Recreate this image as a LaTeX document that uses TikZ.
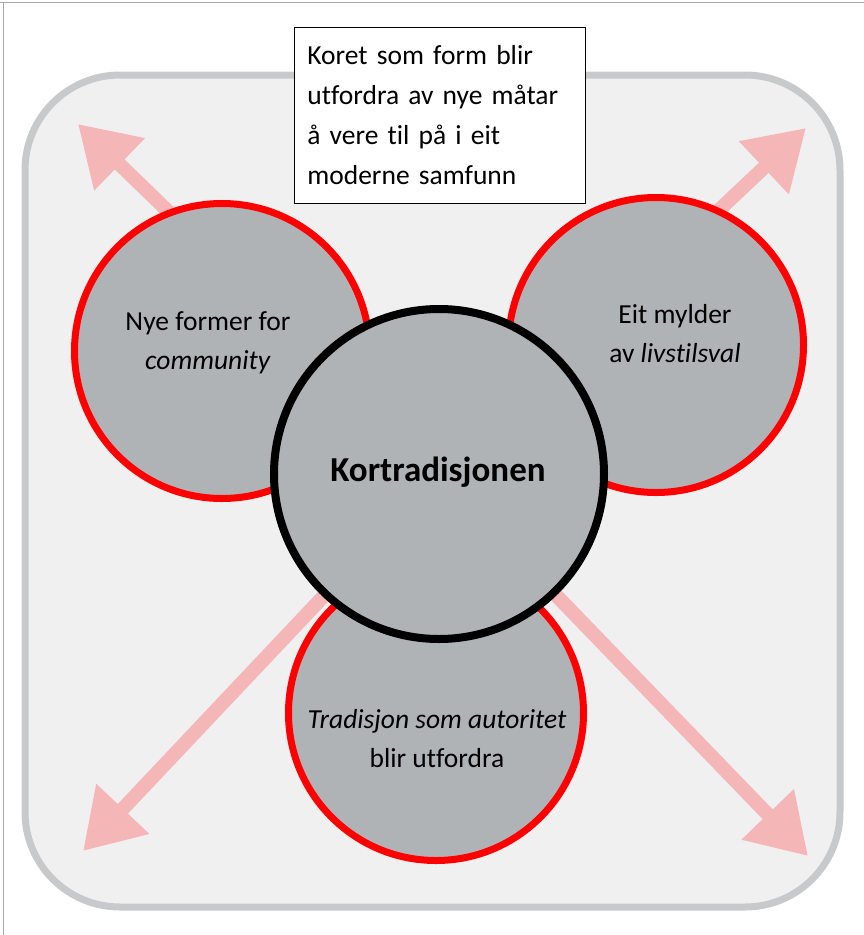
\documentclass[tikz,border=0pt]{standalone}
\usepackage{fontspec}
\setmainfont{Carlito}[Ligatures=NoCommon]
\usetikzlibrary{arrows.meta}
\definecolor{framegray}{HTML}{C8C9CA}
\definecolor{panelfill}{HTML}{F0F0F0}
\definecolor{circfill}{HTML}{B0B3B6}
\definecolor{arrowpink}{HTML}{F4B6B6}
\definecolor{edgegray}{HTML}{A8A8A8}
\tikzset{
  panel/.style={draw=framegray, line width=7pt, fill=panelfill, rounded corners=95pt},
  outarrow/.style={draw=arrowpink, line width=14pt, -{Triangle[length=58pt,width=69pt]}},
  redcirc/.style={circle, draw=red, line width=7pt, fill=circfill, minimum size=295pt, inner sep=0pt},
  blackcirc/.style={circle, draw=black, line width=8pt, fill=circfill, minimum size=330pt, inner sep=0pt},
  lbl/.style={font=\fontsize{27.5}{39}\selectfont, align=center, text=black},
  boxlbl/.style={draw=black, line width=0.8pt, fill=white, font=\fontsize{27.5}{40}\selectfont, align=left, text width=265pt, inner xsep=13pt, inner ysep=6pt, minimum width=291pt, minimum height=176pt, anchor=north west}
}
\begin{document}
\begin{tikzpicture}[x=1pt,y=-1pt]
\useasboundingbox (0,0) rectangle (864,935);
% page edges
\draw[edgegray, line width=1pt] (0,2) -- (864,2);
\draw[edgegray, line width=1pt] (3,2) -- (3,935);
% panel
\draw[panel] (25,75) rectangle (840,907);
% arrows radiate from the hub
\coordinate (hub) at (439,474);
\coordinate (tlT) at (78,124);
\coordinate (trT) at (806,128);
\coordinate (blT) at (83,851);
\coordinate (brT) at (808,856);
\draw[outarrow] (hub) -- (tlT);
\draw[outarrow] (hub) -- (trT);
\draw[outarrow] (hub) -- (blT);
\draw[outarrow] (hub) -- (brT);
% circles
\node[redcirc] (ctl) at (222,351) {};
\node[redcirc] (ctr) at (656,345) {};
\node[redcirc] (cb) at (436,713) {};
\node[blackcirc] (cc) at (hub) {};
% labels
\node[lbl] (ltl) at (208,343) {Nye former for\\\textit{community}};
\node[lbl] (ltr) at (675,334) {Eit mylder\\av \textit{livstilsval}};
\node[lbl] (lb) at (437,739) {\textit{Tradisjon som autoritet}\\blir utfordra};
\node[font=\fontsize{35}{40}\selectfont\bfseries] (lc) at (438,472) {Kortradisjonen};
% top box
\node[boxlbl] (topbox) at (294,27) {Koret som form blir\\utfordra av nye måtar\\å vere til på i eit\\moderne samfunn};
\end{tikzpicture}
\end{document}
